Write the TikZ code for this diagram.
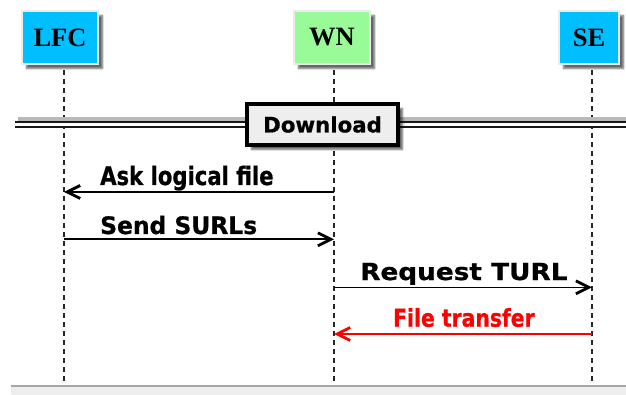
\documentclass[tikz,border=0pt]{standalone}
\usepackage{fontspec}
\usepackage{graphicx}
\usetikzlibrary{arrows.meta,shadows.blur}
\newfontfamily\labfont{DejaVu Sans}[BoldFeatures={FakeBold=0.8}]
\newfontfamily\boxfont{Liberation Serif}
\definecolor{skyb}{RGB}{0,191,255}
\definecolor{paleg}{RGB}{152,251,152}
\definecolor{sepfill}{RGB}{238,238,238}
\newcommand\lbl[3]{\scalebox{#1}[1]{\fontsize{#2}{#2}\selectfont\labfont\bfseries #3}}
\tikzset{
  actor/.style={draw=black!8, line width=1.5pt, minimum height=53pt, inner sep=0pt,
    font=\boxfont\bfseries\fontsize{26.5}{26.5}\selectfont,
    blur shadow={shadow xshift=4.5pt, shadow yshift=-4.5pt, shadow blur steps=6, shadow opacity=60}},
  lifeline/.style={black!85, line width=1.1pt, dash pattern=on 5pt off 4pt},
  msg/.style={line width=1.6pt, -{Straight Barb[length=13pt,width=13pt,line width=2.8pt]}},
  seplabel/.style={draw=black, line width=3.2pt, fill=sepfill, minimum width=151pt, minimum height=41pt,
    font=\labfont\bfseries\fontsize{21.3}{21.3}\selectfont,
    blur shadow={shadow xshift=4.5pt, shadow yshift=-4.5pt, shadow blur steps=6, shadow opacity=60}},
  msglabel/.style={anchor=base west, inner sep=0pt}
}
\begin{document}
\begin{tikzpicture}[x=1pt,y=-1pt]
\useasboundingbox (0,0) rectangle (626,395);
% actors
\node[actor, fill=skyb, minimum width=76pt] (lfc) at (60,37.5) {LFC};
\node[actor, fill=paleg, minimum width=76pt] (wn) at (332,37.5) {WN};
\node[actor, fill=skyb, minimum width=60pt] (se) at (589,37.5) {SE};
% lifeline ends
\coordinate (lfcT) at (64,70); \coordinate (lfcB) at (64,386);
\coordinate (wnT) at (334,70); \coordinate (wnB) at (334,386);
\coordinate (seT) at (592,70); \coordinate (seB) at (592,386);
\draw[lifeline] (lfcT) -- (lfcB);
\draw[lifeline] (wnT) -- (wnB);
\draw[lifeline] (seT) -- (seB);
% separator
\coordinate (sepL) at (15,124.5); \coordinate (sepR) at (630,124.5);
\draw[gray!55, line width=3.5pt] ([yshift=5.5pt]sepL -| 18,0) -- ([yshift=5.5pt]sepR);
\draw[black!90, line width=2pt, double=white, double distance=2.2pt] (sepL) -- (sepR);
\node[seplabel] (dl) at (322.5,124.5) {Download};
% messages
\coordinate (m1) at (0,192); \coordinate (m2) at (0,239.3);
\coordinate (m3) at (0,287.3); \coordinate (m4) at (0,334);
\draw[msg] (wnT |- m1) -- (lfcT |- m1);
\node[msglabel] (l1) at (100,185) {\lbl{0.83}{25.5}{Ask logical file}};
\draw[msg] (lfcT |- m2) -- (wnT |- m2);
\node[msglabel] (l2) at (100,234) {\lbl{0.975}{24}{Send SURLs}};
\draw[msg] (wnT |- m3) -- (seT |- m3);
\node[msglabel] (l3) at (360,280) {\lbl{1.12}{23.5}{Request TURL}};
\draw[msg, red] (seT |- m4) -- (wnT |- m4);
\node[msglabel] (l4) at (393,326.7) {\color{red}\lbl{0.83}{24.5}{File transfer}};
% bottom band
\fill[sepfill] (11,386) rectangle (630,400);
\draw[black!35, line width=1.2pt] (11,386) -- (630,386);
\end{tikzpicture}
\end{document}
